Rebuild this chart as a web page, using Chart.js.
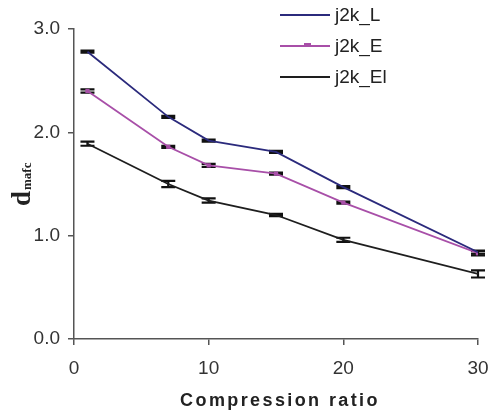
<!DOCTYPE html>
<html>
<head>
<meta charset="utf-8">
<script src="https://cdn.jsdelivr.net/npm/chart.js@4.4.0/dist/chart.umd.min.js"></script>
<style>
  html, body { margin:0; padding:0; background:#fff; }
  #wrap { width:489px; height:411px; position:relative; }
</style>
</head>
<body>
<div id="wrap"><canvas id="chart"></canvas></div>
<script>
// Data
const ratios = [1, 7, 10, 15, 20, 30]
const seriesNames = ["j2k_L", "j2k_E", "j2k_El"]
const valuesL  = [2.78, 2.15, 1.92, 1.81, 1.47, 0.84]
const valuesE  = [2.40, 1.86, 1.68, 1.60, 1.32, 0.83]
const valuesEl = [1.89, 1.50, 1.34, 1.20, 0.96, 0.63]
const errL  = [0.01, 0.01, 0.01, 0.01, 0.01, 0.015]
const errE  = [0.015, 0.01, 0.015, 0.01, 0.01, 0.02]
const errEl = [0.02, 0.03, 0.02, 0.01, 0.02, 0.035]
const xTicks = [0, 10, 20, 30]
const yTicks = [0, 1, 2, 3]

const colors = ["#2b2a7c", "#a84fa8", "#1e1e1e"]
const axisColor = "#555"
const textColor = "#333"

const toPoints = vals => vals.map((v, i) => ({ x: ratios[i], y: v }))

// error bars with black caps
const errorBars = {
    id: "errorBars",
    beforeDatasetsDraw(chart){
        const { ctx, scales: { x, y } } = chart
        const errs = [errL, errE, errEl]
        const vals = [valuesL, valuesE, valuesEl]
        ctx.save()
        ctx.strokeStyle = "#111"
        ctx.lineWidth = 2.2
        vals.forEach((vs, s) => {
            vs.forEach((v, i) => {
                const px = x.getPixelForValue(ratios[i])
                const top = y.getPixelForValue(v + errs[s][i])
                const bot = y.getPixelForValue(v - errs[s][i])
                ctx.beginPath()
                ctx.moveTo(px, top); ctx.lineTo(px, bot)
                ctx.moveTo(px - 7, top); ctx.lineTo(px + 7, top)
                ctx.moveTo(px - 7, bot); ctx.lineTo(px + 7, bot)
                ctx.stroke()
            })
        })
        ctx.restore()
    }
}

// legend, axis titles
const decorations = {
    id: "decorations",
    afterDraw(chart){
        const { ctx } = chart
        ctx.save()
        // legend
        const rows = [15, 46, 77]
        ctx.font = "19px 'Liberation Sans', Arial, sans-serif"
        ctx.textBaseline = "middle"
        rows.forEach((ry, i) => {
            ctx.strokeStyle = colors[i]
            ctx.lineWidth = 1.8
            ctx.beginPath()
            ctx.moveTo(280, ry); ctx.lineTo(330, ry)
            ctx.stroke()
            if (i === 1){
                ctx.fillStyle = colors[1]
                ctx.fillRect(304, ry - 3, 7, 3)
            }
            ctx.fillStyle = "#222"
            ctx.fillText(seriesNames[i], 335, ry + 1)
        })
        // x title
        ctx.font = "bold 18px 'Liberation Sans', Arial, sans-serif"
        ctx.letterSpacing = "2.4px"
        ctx.fillStyle = "#222"
        ctx.textAlign = "center"
        ctx.textBaseline = "alphabetic"
        ctx.fillText("Compression ratio", 280, 406)
        ctx.letterSpacing = "0px"
        // y title: d with subscript mafc
        ctx.translate(30, 206)
        ctx.rotate(-Math.PI / 2)
        ctx.textAlign = "left"
        ctx.font = "bold 27px 'Liberation Serif', 'Times New Roman', serif"
        ctx.fillText("d", 0, 0)
        const dw = ctx.measureText("d").width
        ctx.font = "bold 13px 'Liberation Serif', 'Times New Roman', serif"
        ctx.fillText("mafc", dw + 1, 1)
        ctx.restore()
    }
}

new Chart(document.getElementById("chart"), {
    type: "line",
    data: {
        datasets: [
            { label: seriesNames[0], data: toPoints(valuesL), borderColor: colors[0], borderWidth: 1.8, pointRadius: 0, tension: 0 },
            { label: seriesNames[1], data: toPoints(valuesE), borderColor: colors[1], borderWidth: 1.8, pointStyle: "rect", pointRadius: 3, pointBackgroundColor: colors[1], pointBorderWidth: 0, tension: 0 },
            { label: seriesNames[2], data: toPoints(valuesEl), borderColor: colors[2], borderWidth: 1.8, pointRadius: 0, tension: 0 }
        ]
    },
    options: {
        responsive: true,
        maintainAspectRatio: false,
        animation: false,
        layout: { padding: { top: 29, right: 11, left: 0, bottom: 0 } },
        plugins: { legend: { display: false }, tooltip: { enabled: false } },
        scales: {
            x: {
                type: "linear", min: 0, max: 30,
                afterBuildTicks: s => { s.ticks = xTicks.map(v => ({ value: v })) },
                afterFit: s => { s.height = 72; s.paddingLeft = 0; s.paddingRight = 0 },
                grid: { drawOnChartArea: false, drawTicks: true, tickLength: 6, color: axisColor, lineWidth: 1.5 },
                border: { color: axisColor, width: 1.5 },
                ticks: { color: textColor, font: { size: 19, family: "'Liberation Sans', Arial, sans-serif" }, padding: 12 }
            },
            y: {
                min: 0, max: 3,
                afterBuildTicks: s => { s.ticks = yTicks.map(v => ({ value: v })) },
                afterFit: s => { s.width = 74; s.paddingTop = 0; s.paddingBottom = 0 },
                grid: { drawOnChartArea: false, drawTicks: true, tickLength: 6, color: axisColor, lineWidth: 1.5 },
                border: { color: axisColor, width: 1.5 },
                ticks: { color: textColor, font: { size: 19, family: "'Liberation Sans', Arial, sans-serif" }, padding: 8, callback: v => v.toFixed(1) }
            }
        }
    },
    plugins: [errorBars, decorations]
})
</script>
</body>
</html>
